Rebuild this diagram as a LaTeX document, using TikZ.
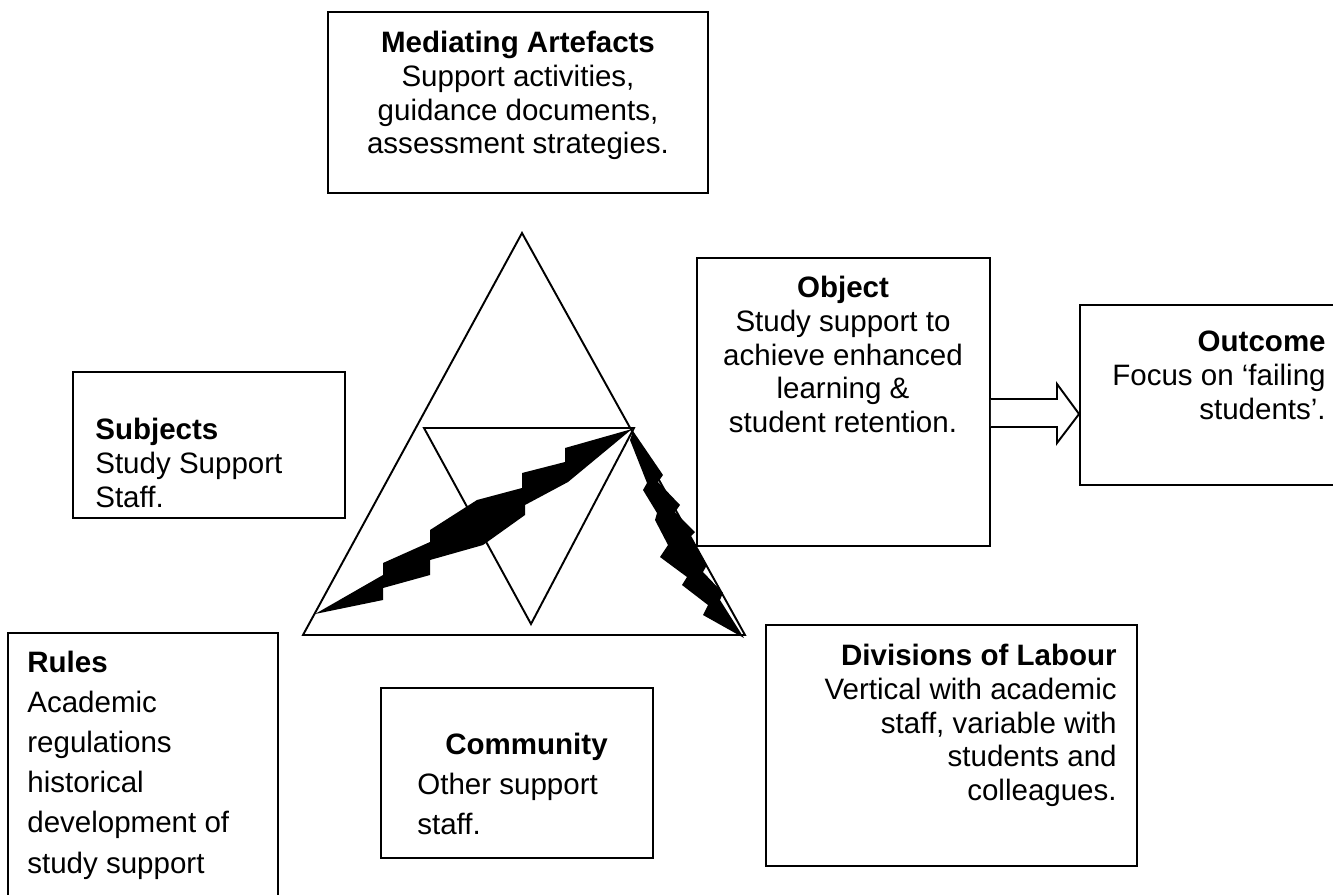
\documentclass[tikz,border=0pt]{standalone}
\usepackage{fontspec}
\setmainfont{Liberation Sans}
\usetikzlibrary{positioning}

\tikzset{
  box/.style={draw,line width=1.1pt,inner sep=0pt},
  txt/.style={inner sep=0pt,font=\fontsize{16.8}{19.2}\selectfont},
  bigtxt/.style={inner sep=0pt,font=\fontsize{16.8}{22.8}\selectfont},
  edge/.style={line width=1.1pt,line join=miter}
}

\begin{document}
\begin{tikzpicture}[x=0.02cm,y=-0.02cm]
\useasboundingbox (0,0) rectangle (1333,894);

% boxes
\node[box,minimum width=7.6cm,minimum height=3.62cm] (art) at (518,102.5) {};
\node[box,minimum width=5.86cm,minimum height=5.76cm] (obj) at (843.5,402) {};
\node[box,minimum width=5.3cm,minimum height=3.6cm] (out) at (1212.5,395) {};
\node[box,minimum width=5.44cm,minimum height=2.92cm] (subj) at (209,445) {};
\node[box,minimum width=5.4cm,minimum height=5.44cm] (rules) at (143,769) {};
\node[box,minimum width=5.44cm,minimum height=3.4cm] (comm) at (517,773) {};
\node[box,minimum width=7.42cm,minimum height=4.82cm] (div) at (951.5,745.5) {};

% texts
\node[txt,anchor=north,align=center] (arttxt) at (518,31)
  {\textbf{Mediating Artefacts}\\Support activities,\\guidance documents,\\assessment strategies.};
\node[txt,anchor=north,align=center] (objtxt) at (843,276)
  {\textbf{Object}\\Study support to\\achieve enhanced\\learning \&\\student retention.};
\node[txt,anchor=north east,align=right] (outtxt) at (1326,331)
  {\textbf{Outcome}\\Focus on ‘failing\\students’.};
\node[txt,anchor=north west,align=left] (subjtxt) at (95,418)
  {\textbf{Subjects}\\Study Support\\Staff.};
\node[bigtxt,anchor=north west,align=left] (rulestxt) at (27,651)
  {\textbf{Rules}\\Academic\\regulations\\historical\\development of\\study support};
\node[bigtxt,anchor=north west,align=left] (commtxt) at (417,733)
  {\hspace*{0.56cm}\textbf{Community}\\Other support\\staff.};
\node[txt,anchor=north east,align=right] (divtxt) at (1117,644)
  {\textbf{Divisions of Labour}\\Vertical with academic\\staff, variable with\\students and\\colleagues.};

% triangles
\coordinate (top) at (522,233);
\coordinate (bl) at (303,635);
\coordinate (br) at (745,635);
\coordinate (il) at (424,428);
\coordinate (ir) at (634,428);
\coordinate (ib) at (531,624);
\draw[edge] (top) -- (bl) -- (br) -- cycle;
\draw[edge] (il) -- (ir) -- (ib) -- cycle;

% lightning
\fill (315,614) -- (383,575) -- (383,563) -- (430,542) -- (430,530) -- (477,500)
  -- (522,488) -- (522,473) -- (565,462) -- (565,448) -- (632,429)
  -- (568,482) -- (525,505) -- (525,515) -- (483,545) -- (430,560) -- (430,575)
  -- (383,588) -- (383,600) -- cycle;
\fill (633,431) -- (663,475) -- (658,482) -- (680,505) -- (675,512) -- (695,532)
  -- (690,537) -- (707,565) -- (703,572) -- (723,593) -- (720,600) -- (744,638)
  -- (703,615) -- (708,605) -- (682,585) -- (687,577) -- (660,557) -- (668,545)
  -- (655,520) -- (657,513) -- (643,490) -- (647,483) -- (630,440) -- cycle;

% arrow object -> outcome
\draw[edge,fill=white] (obj.east |- 0,399) -- (1057,399) -- (1057,384) -- (out.west |- 0,414)
  -- (1057,443) -- (1057,427) -- (obj.east |- 0,427);
\end{tikzpicture}
\end{document}
